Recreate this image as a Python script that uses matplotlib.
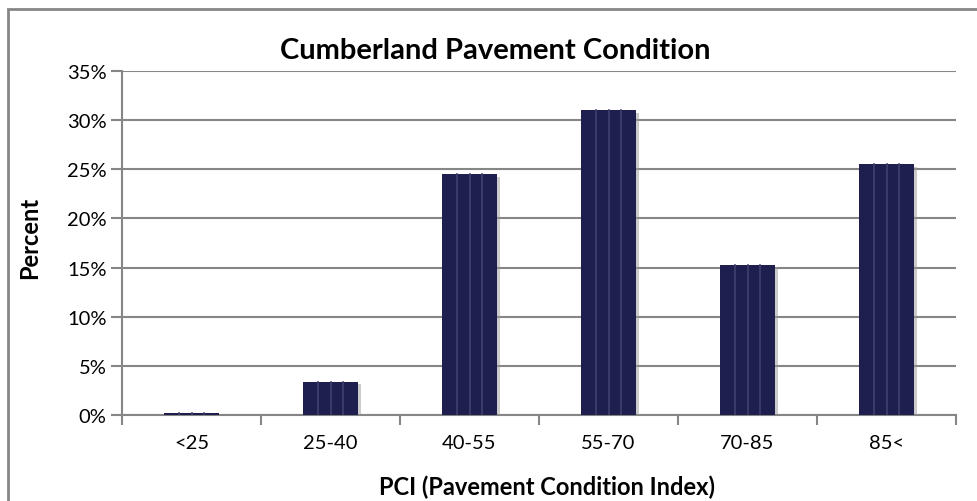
import numpy as np
import matplotlib.pyplot as plt
from matplotlib.patches import Rectangle
from matplotlib.ticker import PercentFormatter
import matplotlib.patheffects as pe

plt.rcParams['font.family'] = ['Lato', 'DejaVu Sans']

categories = ['<25', '25-40', '40-55', '55-70', '70-85', '85<']
percent = [0.2, 3.4, 24.5, 31.0, 15.3, 25.5]

bar_color = '#1f1f4f'
grid_color = '#868686'

fig = plt.figure(figsize=(9.77, 5.02), dpi=100)
W, H = 977, 502
ax = fig.add_axes([122 / W, 1 - 416 / H, (956 - 122) / W, (416 - 72) / H])

# outer chart border (cropped at right/bottom like the reference)
fig.patches.append(Rectangle((8 / W, -0.05), 1.2, 1 - 10 / H + 0.05,
                             transform=fig.transFigure, fill=False,
                             edgecolor=grid_color, linewidth=2))

x = np.arange(len(categories))
bars = ax.bar(x, percent, width=0.4, color=bar_color, zorder=3,
              path_effects=[pe.SimplePatchShadow(offset=(2, -2), shadow_rgbFace='#999999', alpha=0.5),
                            pe.Normal()])
# faint vertical stripes inside the bars
for b in bars:
    x0, w, h = b.get_x(), b.get_width(), b.get_height()
    for f in (0.27, 0.5, 0.73):
        ax.plot([x0 + f * w] * 2, [0, h], color='#40406e', lw=1.2, zorder=4)

ax.set_xlim(-0.5, len(categories) - 0.5)
ax.set_ylim(0, 35)
ax.set_yticks(np.arange(0, 36, 5))
ax.yaxis.set_major_formatter(PercentFormatter(decimals=0))
ax.set_xticks(x)
ax.set_xticklabels(categories)
ax.set_xticks(np.arange(-0.5, len(categories)), minor=True)
ax.tick_params(axis='x', which='major', length=0, pad=14, labelsize=14.5)
ax.tick_params(axis='x', which='minor', length=7, color=grid_color, width=1.5, direction='out')
ax.tick_params(axis='y', length=8, color=grid_color, width=1.5, labelsize=14.5, pad=3)

ax.grid(axis='y', color=grid_color, linewidth=1.5, zorder=0)
ax.set_axisbelow(True)
for s in ('top', 'right'):
    ax.spines[s].set_visible(False)
for s in ('left', 'bottom'):
    ax.spines[s].set_color(grid_color)
    ax.spines[s].set_linewidth(1.5)

fig.text(495 / W, 1 - 51 / H, 'Cumberland Pavement Condition', ha='center', va='center',
         fontsize=21, fontweight='bold')
fig.text(30 / W, 1 - 238 / H, 'Percent', ha='center', va='center', rotation=90,
         fontsize=17, fontweight='bold')
fig.text(547 / W, 1 - 487 / H, 'PCI (Pavement Condition Index)', ha='center', va='center',
         fontsize=17, fontweight='bold')

fig.savefig('out.png', dpi=100)
